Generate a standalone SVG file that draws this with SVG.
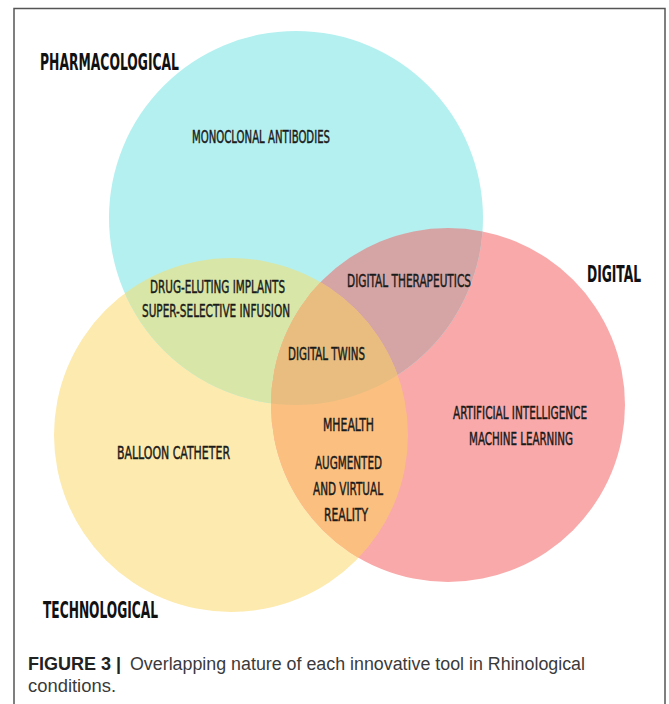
<svg xmlns="http://www.w3.org/2000/svg" width="669" height="704" viewBox="0 0 669 704">
  <style>
    .label { font-family: "DejaVu Sans Condensed", "DejaVu Sans", sans-serif; font-stretch: condensed; font-size: 18px; fill: #1a1a1a; stroke: #1a1a1a; stroke-width: 0.45px; }
    .title { font-family: "DejaVu Sans Condensed", "DejaVu Sans", sans-serif; font-stretch: condensed; font-size: 23px; font-weight: bold; fill: #111; }
    .cap { font-family: "Liberation Sans", Arial, sans-serif; font-size: 18px; fill: #3a3a3a; }
    .capb { font-family: "Liberation Sans", Arial, sans-serif; font-size: 18px; font-weight: bold; fill: #222; }
  </style>
  <defs>
    <clipPath id="clipPharm"><circle cx="296" cy="218" r="187"/></clipPath>
    <clipPath id="clipTech"><circle cx="231" cy="435" r="177"/></clipPath>
    <clipPath id="clipDigital"><circle cx="448" cy="405" r="177"/></clipPath>
  </defs>

  <rect width="669" height="704" fill="#ffffff"/>
  <!-- figure frame, open at the bottom -->
  <path d="M14 704 V8.5 H665 V704" fill="none" stroke="#555" stroke-width="1.5"/>

  <!-- three sets -->
  <g id="set-technological">
    <circle cx="231" cy="435" r="177" fill="#fdeaae"/>
  </g>
  <g id="set-digital">
    <circle cx="448" cy="405" r="177" fill="#f9a9a9"/>
  </g>
  <g id="set-pharmacological">
    <circle cx="296" cy="218" r="187" fill="#b4f0f0"/>
  </g>

  <!-- pairwise overlaps -->
  <g id="overlap-pharm-tech" clip-path="url(#clipPharm)">
    <circle cx="231" cy="435" r="177" fill="#d8e6a8"/>
  </g>
  <g id="overlap-pharm-digital" clip-path="url(#clipPharm)">
    <circle cx="448" cy="405" r="177" fill="#d5a5a6"/>
  </g>
  <g id="overlap-tech-digital" clip-path="url(#clipTech)">
    <circle cx="448" cy="405" r="177" fill="#fbc080"/>
  </g>
  <!-- centre: all three -->
  <g id="overlap-all" clip-path="url(#clipPharm)">
    <g clip-path="url(#clipTech)">
      <circle cx="448" cy="405" r="177" fill="#e9bd80"/>
    </g>
  </g>

  <!-- set titles -->
  <g id="title-pharmacological">
    <text class="title" x="40" y="70" textLength="139" lengthAdjust="spacingAndGlyphs">PHARMACOLOGICAL</text>
  </g>
  <g id="title-digital" transform="translate(587,282) scale(0.6,1)">
    <text class="title" x="0" y="0" textLength="90" lengthAdjust="spacingAndGlyphs">DIGITAL</text>
  </g>
  <g id="title-technological">
    <text class="title" x="43" y="618" textLength="115" lengthAdjust="spacingAndGlyphs">TECHNOLOGICAL</text>
  </g>

  <!-- region labels -->
  <g id="label-monoclonal">
    <text class="label" x="192" y="143" textLength="138" lengthAdjust="spacingAndGlyphs">MONOCLONAL ANTIBODIES</text>
  </g>
  <g id="label-drug-eluting">
    <text class="label" x="150" y="293" textLength="135" lengthAdjust="spacingAndGlyphs">DRUG-ELUTING IMPLANTS</text>
    <text class="label" x="142" y="317" textLength="148" lengthAdjust="spacingAndGlyphs">SUPER-SELECTIVE INFUSION</text>
  </g>
  <g id="label-digital-therapeutics">
    <text class="label" x="347" y="287" textLength="124" lengthAdjust="spacingAndGlyphs">DIGITAL THERAPEUTICS</text>
  </g>
  <g id="label-digital-twins">
    <text class="label" x="288" y="360" textLength="77" lengthAdjust="spacingAndGlyphs">DIGITAL TWINS</text>
  </g>
  <g id="label-balloon">
    <text class="label" x="117" y="459" textLength="113" lengthAdjust="spacingAndGlyphs">BALLOON CATHETER</text>
  </g>
  <g id="label-ai">
    <text class="label" x="453" y="419" textLength="134" lengthAdjust="spacingAndGlyphs">ARTIFICIAL INTELLIGENCE</text>
    <text class="label" x="469" y="445" textLength="104" lengthAdjust="spacingAndGlyphs">MACHINE LEARNING</text>
  </g>
  <g id="label-mhealth">
    <text class="label" x="323" y="431" textLength="51" lengthAdjust="spacingAndGlyphs">MHEALTH</text>
    <text class="label" x="315" y="469" textLength="67" lengthAdjust="spacingAndGlyphs">AUGMENTED</text>
    <text class="label" x="313" y="495" textLength="70" lengthAdjust="spacingAndGlyphs">AND VIRTUAL</text>
    <text class="label" x="324" y="521" textLength="44" lengthAdjust="spacingAndGlyphs">REALITY</text>
  </g>

  <!-- caption -->
  <g id="caption">
    <text class="capb" x="28" y="670">FIGURE 3 |</text>
    <text class="cap" x="130" y="670" textLength="455" lengthAdjust="spacingAndGlyphs">Overlapping nature of each innovative tool in Rhinological</text>
    <text class="cap" x="28" y="692" textLength="88" lengthAdjust="spacingAndGlyphs">conditions.</text>
  </g>
</svg>
